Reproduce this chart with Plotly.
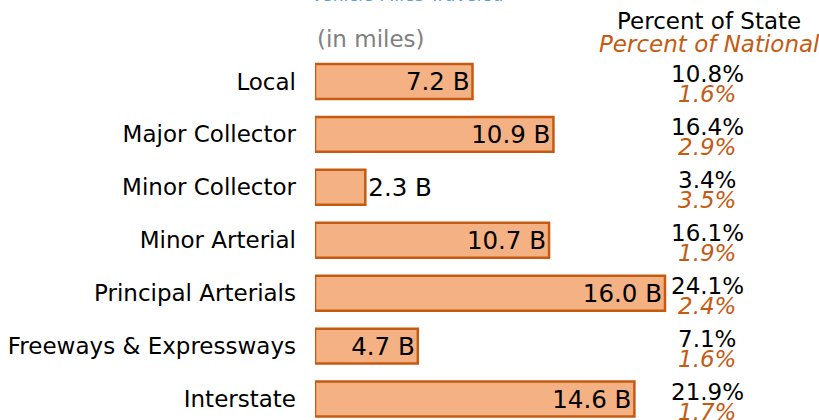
import plotly.graph_objects as go

categories = ["Local", "Major Collector", "Minor Collector", "Minor Arterial",
              "Principal Arterials", "Freeways & Expressways", "Interstate"]
vmt_billions = [7.2, 10.9, 2.3, 10.7, 16.0, 4.7, 14.6]
pct_state = ["10.8%", "16.4%", "3.4%", "16.1%", "24.1%", "7.1%", "21.9%"]
pct_national = ["1.6%", "2.9%", "3.5%", "1.9%", "2.4%", "1.6%", "1.7%"]
bar_labels = [f"{v:.1f} B" for v in vmt_billions]

FONT = "DejaVu Sans"
FS = 23
ORANGE = "#C55A11"
FILL = "#F4B183"
BLUE = "#5B9BD5"

W, H = 819, 420
ml, mt, mr, mb = 315, 54.5, 0, 0
plot_w = W - ml - mr
plot_h = H - mt - mb
px_per_unit = 21.875
x_max = plot_w / px_per_unit

def py(pix):
    return (H - mb - pix) / plot_h

def dx(pix):
    return (pix - ml) / px_per_unit

fig = go.Figure()
fig.add_trace(go.Bar(
    x=vmt_billions, y=categories, orientation="h",
    marker=dict(color=FILL, line=dict(color=ORANGE, width=2.5)),
    width=0.66,
    text=bar_labels, textposition="auto", insidetextanchor="end",
    textfont=dict(family=FONT, size=24.5, color="#000"),
    constraintext="none", cliponaxis=False,
    hoverinfo="skip",
))

x_pct = dx(707)
for c, s, n in zip(categories, pct_state, pct_national):
    fig.add_annotation(x=x_pct, y=c, xref="x", yref="y", text=s, showarrow=False,
                       xanchor="center", yanchor="middle", yshift=7,
                       font=dict(family=FONT, size=FS, color="#000"))
    fig.add_annotation(x=x_pct, y=c, xref="x", yref="y", text=f"<i>{n}</i>", showarrow=False,
                       xanchor="center", yanchor="middle", yshift=-13,
                       font=dict(family=FONT, size=FS, color=ORANGE))

fig.add_annotation(x=dx(709), y=py(20), xref="x", yref="paper",
                   text="Percent of State", showarrow=False, xanchor="center", yanchor="middle",
                   font=dict(family=FONT, size=FS, color="#000"))
fig.add_annotation(x=dx(709), y=py(43), xref="x", yref="paper",
                   text="<i>Percent of National</i>", showarrow=False, xanchor="center", yanchor="middle",
                   font=dict(family=FONT, size=FS, color=ORANGE))
fig.add_annotation(x=0, y=py(38), xref="x", yref="paper",
                   text="(in miles)", showarrow=False, xanchor="left", yanchor="middle",
                   font=dict(family=FONT, size=FS, color="#808080"))
fig.add_annotation(x=dx(407), y=py(6.5), xref="x", yref="paper",
                   text="Vehicle Miles Traveled", showarrow=False, xanchor="center", yanchor="bottom",
                   font=dict(family=FONT, size=17.5, color=BLUE))

fig.update_layout(
    width=W, height=H,
    margin=dict(l=ml, r=mr, t=mt, b=mb, pad=0),
    paper_bgcolor="white", plot_bgcolor="white",
    showlegend=False,
    font=dict(family=FONT, size=FS, color="#000"),
    xaxis=dict(range=[0, x_max], visible=False, showgrid=False, zeroline=False, fixedrange=True),
    yaxis=dict(type="category", categoryorder="array", categoryarray=categories,
               range=[6 + (H - 399) / 53.0, -0.5], showgrid=False, zeroline=False,
               showline=False, ticks="", ticklabelstandoff=18,
               tickfont=dict(family=FONT, size=FS, color="#000"), fixedrange=True),
)

fig.write_html("out.html", config={"displayModeBar": False},
               post_script="document.body.style.margin='0';document.body.style.overflow='hidden';")
